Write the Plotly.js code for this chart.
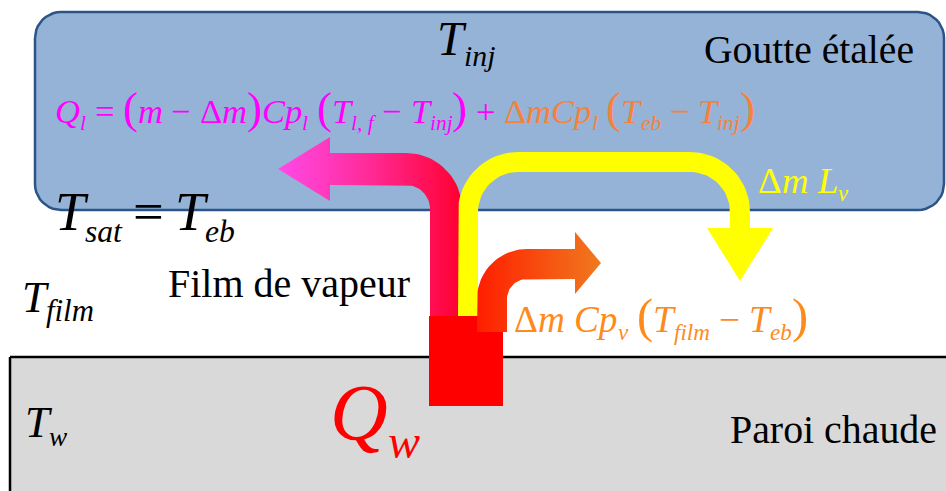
<!DOCTYPE html>
<html><head><meta charset="utf-8">
<script src="https://cdn.plot.ly/plotly-3.0.1.min.js"></script>
<style>html,body{margin:0;padding:0;background:#fff}.c{width:946px;height:491px}</style>
</head><body><div id="chart" class="c"></div>
<script>
// ---- colours ----
const colBlue = "#95B3D7", colBlueLine = "#2C5587", colGray = "#D9D9D9";
const M = "#FF00FF", O = "#F5823C", colOrange = "#FF8A1C", colYellow = "#FFFF00", colRed = "#FF0000";
const pinkScale = [[0, "#FF4AE8"], [0.5, "#FF2A96"], [1, "#FF0030"]];
const orangeScale = [[0, "#FF1E00"], [1, "#F07A1E"]];

// ---- text content (token lists: i = italic, r = roman, s = subscript, p = large paren) ----
const tinjTokens = [["T", "i"], ["inj", "s"]];
const goutteTokens = [["Goutte étalée", "r"]];
const eqTokens = [
  ["Q", "i", M], ["l", "s", M], [" = ", "r", M], ["(", "p", M], ["m", "i", M], [" − ", "r", M], ["Δ", "r", M], ["m", "i", M], [")", "p", M],
  ["Cp", "i", M], ["l", "s", M], [" ", "r", M], ["(", "p", M], ["T", "i", M], ["l, f", "s", M], [" − ", "r", M], ["T", "i", M], ["inj", "s", M], [")", "p", M], [" + ", "r", M],
  ["Δ", "r", O], ["mCp", "i", O], ["l", "s", O], [" ", "r", O], ["(", "p", O], ["T", "i", O], ["eb", "s", O], [" − ", "r", O], ["T", "i", O], ["inj", "s", O], [")", "p", O]
];
const tsatTokens = [["T", "i"], ["sat", "s"], ["\u2009=\u2009", "r"], ["T", "i"], ["eb", "s"]];
const filmTokens = [["Film de vapeur", "r"]];
const tfilmTokens = [["T", "i"], ["film", "s"]];
const lvTokens = [["Δ", "r"], ["m", "i"], [" ", "r"], ["L", "i"], ["v", "s"]];
const vapTokens = [["Δ", "r"], ["m", "i"], [" ", "r"], ["Cp", "i"], ["v", "s"], [" ", "r"], ["(", "p"], ["T", "i"], ["film", "s"], [" − ", "r"], ["T", "i"], ["eb", "s"], [")", "p"]];
const twTokens = [["T", "i"], ["w", "s"]];
const qwTokens = [["Q", "i"], ["w", "s"]];
const paroiTokens = [["Paroi chaude", "r"]];

// ---- geometry helpers (diagram shapes) ----
function arc(cx, cy, r, a0, a1, n) {
  const pts = [];
  for (let i = 0; i <= n; i++) {
    const a = a0 + (a1 - a0) * i / n;
    pts.push([cx + r * Math.cos(a), cy + r * Math.sin(a)]);
  }
  return pts;
}
const HALF = Math.PI / 2;
const dropPts = [].concat(
  arc(61, 38, 26, Math.PI, 3 * HALF, 10),
  arc(918, 38, 26, -HALF, 0, 10),
  arc(918, 184, 26, 0, HALF, 10),
  arc(61, 184, 26, HALF, Math.PI, 10)
);
const wallPts = [[10, 357], [960, 357], [960, 500], [10, 500]];
const pinkPts = [].concat(
  [[462, 316], [462, 209]],
  arc(406, 209, 56, 0, -HALF, 20),
  [[330, 153], [330, 137], [278, 169], [330, 201], [330, 185], [406, 185]],
  arc(406, 209, 24, -HALF, 0, 20),
  [[430, 316]]
);
const yellowPts = [].concat(
  [[458, 316], [458, 212]],
  arc(518, 212, 60, Math.PI, 3 * HALF, 20),
  arc(690, 212, 60, -HALF, 0, 20),
  [[750, 228], [773, 228], [740, 281], [707, 228], [730, 228]],
  arc(690, 212, 40, 0, -HALF, 20),
  arc(518, 212, 40, -HALF, -Math.PI, 20),
  [[478, 316]]
);
const orangePts = [].concat(
  [[477, 332], [477, 299]],
  arc(527, 299, 50, Math.PI, 3 * HALF, 20),
  [[575, 249], [575, 232], [601, 263], [575, 294], [575, 279], [527, 279]],
  arc(527, 299, 20, -HALF, -Math.PI, 20),
  [[507, 332]]
);
const redPts = [[429, 316], [503, 316], [503, 406], [429, 406]];

function poly(pts, extra) {
  const x = pts.map(p => p[0]), y = pts.map(p => p[1]);
  x.push(pts[0][0]); y.push(pts[0][1]);
  return Object.assign({type: "scatter", mode: "lines", x: x, y: y, fill: "toself",
    line: {width: 0}, hoverinfo: "skip", showlegend: false}, extra);
}

const traces = [
  poly(dropPts, {fillcolor: colBlue, line: {width: 2.5, color: colBlueLine}}),
  poly(wallPts, {fillcolor: colGray, line: {width: 2.5, color: "#000"}}),
  poly(pinkPts, {fillgradient: {type: "horizontal", colorscale: pinkScale}}),
  poly(yellowPts, {fillcolor: colYellow}),
  poly(redPts, {fillcolor: colRed}),
  poly(orangePts, {fillgradient: {type: "horizontal", colorscale: orangeScale}})
];

// ---- text layout: each token is its own annotation, placed from measured widths ----
const FONT = "Liberation Serif";
const ctx = document.createElement("canvas").getContext("2d");
function meas(t, it, px) { ctx.font = (it ? "italic " : "") + px + 'px "' + FONT + '"'; return ctx.measureText(t).width; }

function build(tokens, o) {
  const sub = o.sub || 0.62, par = o.par || 1.3;
  const sizeOf = (k, S) => k === "s" ? S * sub : (k === "p" ? S * par : S);
  const itOf = k => k === "i" || k === "s";
  const widthAt = S => tokens.reduce((w, t) => w + meas(t[0], itOf(t[1]), sizeOf(t[1], S)), 0);
  let S = o.size;
  if (o.target) S = S * o.target / widthAt(S);
  let x = o.x;
  const out = [];
  tokens.forEach(t => {
    const txt = t[0], k = t[1], c = t[2] || o.color;
    const sz = sizeOf(k, S), it = itOf(k);
    const adv = meas(txt, it, sz);
    const trimmed = txt.trim();
    const leadStr = txt.slice(0, txt.length - txt.replace(/^\s+/, "").length);
    const lead = leadStr ? meas(leadStr, it, sz) : 0;
    const b = o.base + (k === "s" ? 0.22 * S : 0);
    if (trimmed) out.push({text: trimmed, x: x + lead - 2, y: b - 0.3375 * sz, xref: "x", yref: "y",
      showarrow: false, xanchor: "left", yanchor: "middle",
      font: {family: FONT, size: sz, color: c, style: it ? "italic" : "normal"}});
    x += adv;
  });
  return out;
}

const annotations = [].concat(
  build(tinjTokens, {x: 437, base: 55, size: 48, color: "#000"}),
  build(goutteTokens, {x: 704, base: 63, size: 39, target: 210, color: "#000"}),
  build(eqTokens, {x: 55, base: 123, size: 40, target: 700, color: M}),
  build(tsatTokens, {x: 55, base: 230, size: 58, sub: 0.58, target: 180, color: "#000"}),
  build(filmTokens, {x: 168, base: 297, size: 39, target: 242, color: "#000"}),
  build(tfilmTokens, {x: 22, base: 312, size: 44, sub: 0.7, color: "#000"}),
  build(lvTokens, {x: 758, base: 193, size: 36, target: 90, color: colYellow}),
  build(vapTokens, {x: 514, base: 332, size: 38, target: 294, color: colOrange}),
  build(twTokens, {x: 25, base: 437, size: 44, color: "#000"}),
  build(qwTokens, {x: 330, base: 440, size: 80, sub: 0.6, color: colRed}),
  build(paroiTokens, {x: 730, base: 443, size: 39, target: 207, color: "#000"})
);

const layout = {
  width: 946, height: 491,
  margin: {l: 0, r: 0, t: 0, b: 0},
  xaxis: {range: [0, 946], visible: false},
  yaxis: {range: [491, 0], visible: false},
  annotations: annotations
};

Plotly.newPlot("chart", traces, layout, {staticPlot: true});
</script></body></html>
